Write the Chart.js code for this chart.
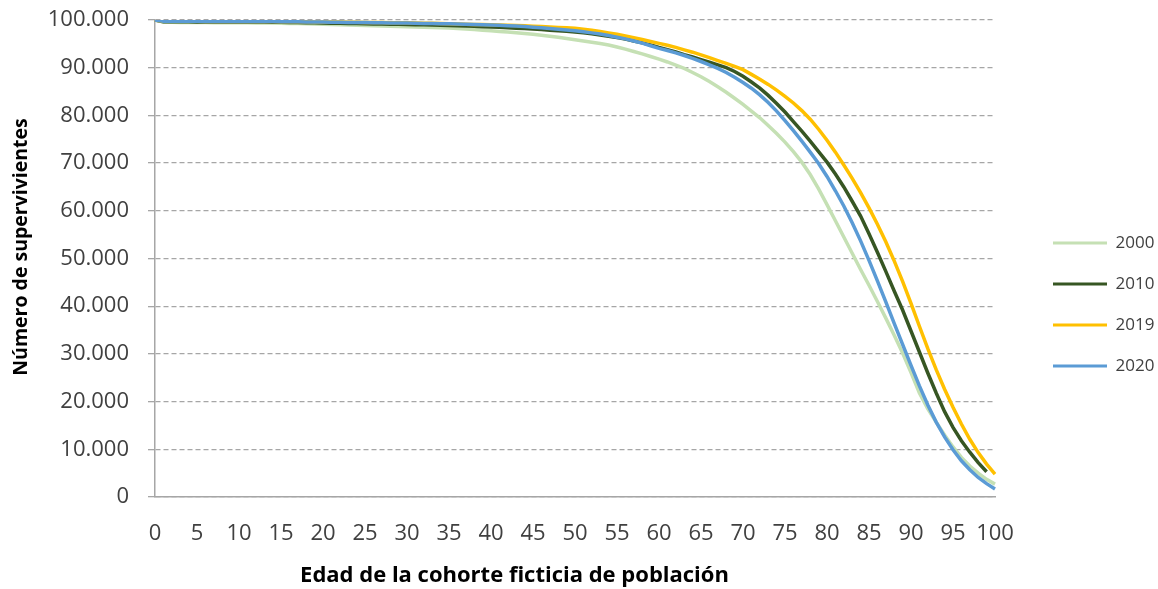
<!DOCTYPE html>
<html>
<head>
<meta charset="utf-8">
<script src="https://cdn.jsdelivr.net/npm/chart.js@4/dist/chart.umd.min.js"></script>
<style>
  html, body { margin: 0; padding: 0; background: #ffffff; }
  #wrap { width: 1158px; height: 589px; position: relative; }
</style>
</head>
<body>
<div id="wrap"><canvas id="c" width="1158" height="589"></canvas></div>
<script>
// ---- DATA ----
const ages = [0,1,2,3,4,5,6,7,8,9,10,11,12,13,14,15,16,17,18,19,20,21,22,23,24,25,26,27,28,29,30,31,32,33,34,35,36,37,38,39,40,41,42,43,44,45,46,47,48,49,50,51,52,53,54,55,56,57,58,59,60,61,62,63,64,65,66,67,68,69,70,71,72,73,74,75,76,77,78,79,80,81,82,83,84,85,86,87,88,89,90,91,92,93,94,95,96,97,98,99,100];
const xTickLabels = ['0','5','10','15','20','25','30','35','40','45','50','55','60','65','70','75','80','85','90','95','100'];
const seriesNames = ['2000','2010','2019','2020'];

const s2000 = [100000,99560,99520,99500,99480,99460,99450,99440,99430,99420,99410,99400,99390,99370,99350,99320,99280,99240,99200,99150,99100,99050,99000,98950,98900,98850,98800,98750,98700,98650,98600,98540,98480,98420,98360,98300,98200,98100,97990,97870,97750,97610,97470,97320,97160,97000,96810,96610,96390,96140,95870,95620,95340,95060,94750,94350,93900,93400,92900,92350,91800,91200,90550,89850,89000,88100,87100,86000,84850,83600,82300,80900,79500,77900,76200,74400,72400,70200,67600,64600,61300,57900,54500,51100,47700,44400,41000,37500,33900,30200,26100,21800,18500,15700,13000,10500,8300,6500,5000,3700,2700];
const s2010 = [100000,99650,99630,99620,99610,99600,99595,99590,99585,99580,99575,99570,99565,99555,99540,99520,99500,99470,99440,99400,99360,99330,99300,99270,99240,99210,99180,99150,99120,99090,99060,99020,98980,98940,98900,98850,98800,98740,98680,98610,98540,98460,98380,98290,98200,98100,97990,97870,97750,97620,97480,97300,97100,96850,96600,96300,96000,95600,95200,94750,94250,93800,93300,92750,92250,91700,91150,90600,90000,89200,88200,87000,85700,84200,82500,80700,78700,76700,74600,72400,70200,67700,65000,62000,58900,55200,51300,47300,43200,39200,34800,30400,26000,21800,17900,14600,11800,9400,7200,5300,null];
const s2019 = [100000,99750,99735,99725,99720,99715,99710,99705,99700,99695,99690,99685,99680,99675,99665,99655,99640,99625,99610,99600,99600,99580,99560,99540,99520,99500,99480,99460,99440,99420,99400,99370,99340,99300,99260,99220,99180,99130,99080,99040,99000,98950,98900,98850,98780,98700,98620,98540,98450,98350,98250,98050,97830,97600,97300,97000,96650,96300,95900,95500,95100,94700,94250,93750,93250,92700,92100,91500,90900,90300,89600,88600,87600,86500,85300,84000,82600,81000,79200,77100,74800,72300,69600,66800,63800,60600,57200,53500,49500,45200,40600,35800,31100,26700,22600,18800,15300,12100,9300,6900,4800];
const s2020 = [100000,99750,99735,99725,99720,99715,99710,99705,99700,99695,99690,99685,99680,99670,99660,99645,99630,99615,99595,99575,99555,99535,99515,99495,99475,99455,99435,99415,99395,99375,99350,99320,99290,99260,99230,99200,99150,99100,99050,99000,98950,98880,98800,98720,98620,98500,98370,98230,98080,97920,97750,97550,97300,97050,96750,96400,96050,95600,95150,94600,94050,93600,93100,92550,91950,91300,90600,89850,89000,88000,86900,85700,84300,82700,80900,78900,76800,74600,72300,69900,67200,64200,61000,57500,53700,49600,45300,40900,36400,32000,27600,23300,19300,15700,12600,9900,7600,5700,4100,2800,1700];

const seriesColors = ['#C5E0B4','#375623','#FFC000','#5B9BD5'];
const seriesValues = [s2000, s2010, s2019, s2020];

const yTitle = 'Número de supervivientes';
const xTitle = 'Edad de la cohorte ficticia de población';

// ---- CHART ----
const FONT = '"Open Sans", "Liberation Sans", sans-serif';

function fmtThousands(v) {
  return String(v).replace(/\B(?=(\d{3})+(?!\d))/g, '.');
}

const axisTitlesPlugin = {
  id: 'axisTitlesPlugin',
  afterDraw(chart) {
    const ctx = chart.ctx;
    const legend = chart.legend;
    ctx.save();
    ctx.fillStyle = '#000000';
    ctx.textAlign = 'center';
    ctx.textBaseline = 'middle';
    ctx.font = 'bold 22px ' + FONT;
    ctx.fillText(xTitle, legend.left / 2, 576);
    ctx.translate(21, 247);
    ctx.rotate(-Math.PI / 2);
    ctx.font = 'bold 19.5px ' + FONT;
    ctx.fillText(yTitle, 0, 0);
    ctx.restore();
  }
};

const datasets = seriesNames.map((name, i) => ({
  label: name,
  data: seriesValues[i],
  borderColor: seriesColors[i],
  backgroundColor: seriesColors[i],
  borderWidth: 3.5,
  pointRadius: 0,
  pointHoverRadius: 0,
  tension: 0,
  fill: false,
  spanGaps: false,
  order: seriesNames.length - i
}));

new Chart(document.getElementById('c'), {
  type: 'line',
  data: { labels: ages, datasets },
  plugins: [axisTitlesPlugin],
  options: {
    responsive: false,
    animation: false,
    devicePixelRatio: 1,
    layout: { padding: { top: 20, left: 10, right: 0, bottom: 0 } },
    plugins: {
      tooltip: { enabled: false },
      title: { display: false },
      legend: {
        display: true,
        position: 'right',
        align: 'center',
        maxWidth: 129,
        labels: {
          boxWidth: 54,
          boxHeight: 3,
          padding: 24,
          color: '#404040',
          font: { family: FONT, size: 17 },
          sort: (a, b) => a.datasetIndex - b.datasetIndex,
          generateLabels(chart) {
            return Chart.defaults.plugins.legend.labels.generateLabels(chart).map(l => Object.assign(l, { lineWidth: 0 }));
          }
        }
      }
    },
    scales: {
      x: {
        type: 'category',
        offset: false,
        grid: { display: false, drawTicks: false },
        border: { display: true, color: '#a6a6a6', width: 1.5 },
        ticks: {
          autoSkip: false,
          maxRotation: 0,
          minRotation: 0,
          padding: 24,
          color: '#404040',
          font: { family: FONT, size: 22 },
          callback: function (value) {
            const lab = String(this.getLabelForValue(value));
            return xTickLabels.includes(lab) ? lab : null;
          }
        },
        afterFit(scale) { scale.height = 92; }
      },
      y: {
        type: 'linear',
        position: 'left',
        min: 0,
        max: 100000,
        grid: {
          display: true,
          color: '#a6a6a6',
          lineWidth: 1.3,
          drawTicks: true,
          tickLength: 7,
          tickColor: '#a6a6a6',
          tickWidth: 1.3
        },
        border: { display: true, color: '#a6a6a6', width: 1.5, dash: [5, 3] },
        ticks: {
          stepSize: 10000,
          padding: 19,
          color: '#404040',
          font: { family: FONT, size: 22 },
          callback: (v) => fmtThousands(v)
        },
        title: { display: false },
        afterFit(scale) { scale.width = 145; scale.paddingTop = 0; scale.paddingBottom = 0; }
      },
      yPad: {
        type: 'linear',
        position: 'right',
        display: true,
        grid: { display: false, drawTicks: false },
        border: { display: false },
        ticks: { display: false },
        afterFit(scale) { scale.width = 34; }
      }
    }
  }
});
</script>
</body>
</html>
